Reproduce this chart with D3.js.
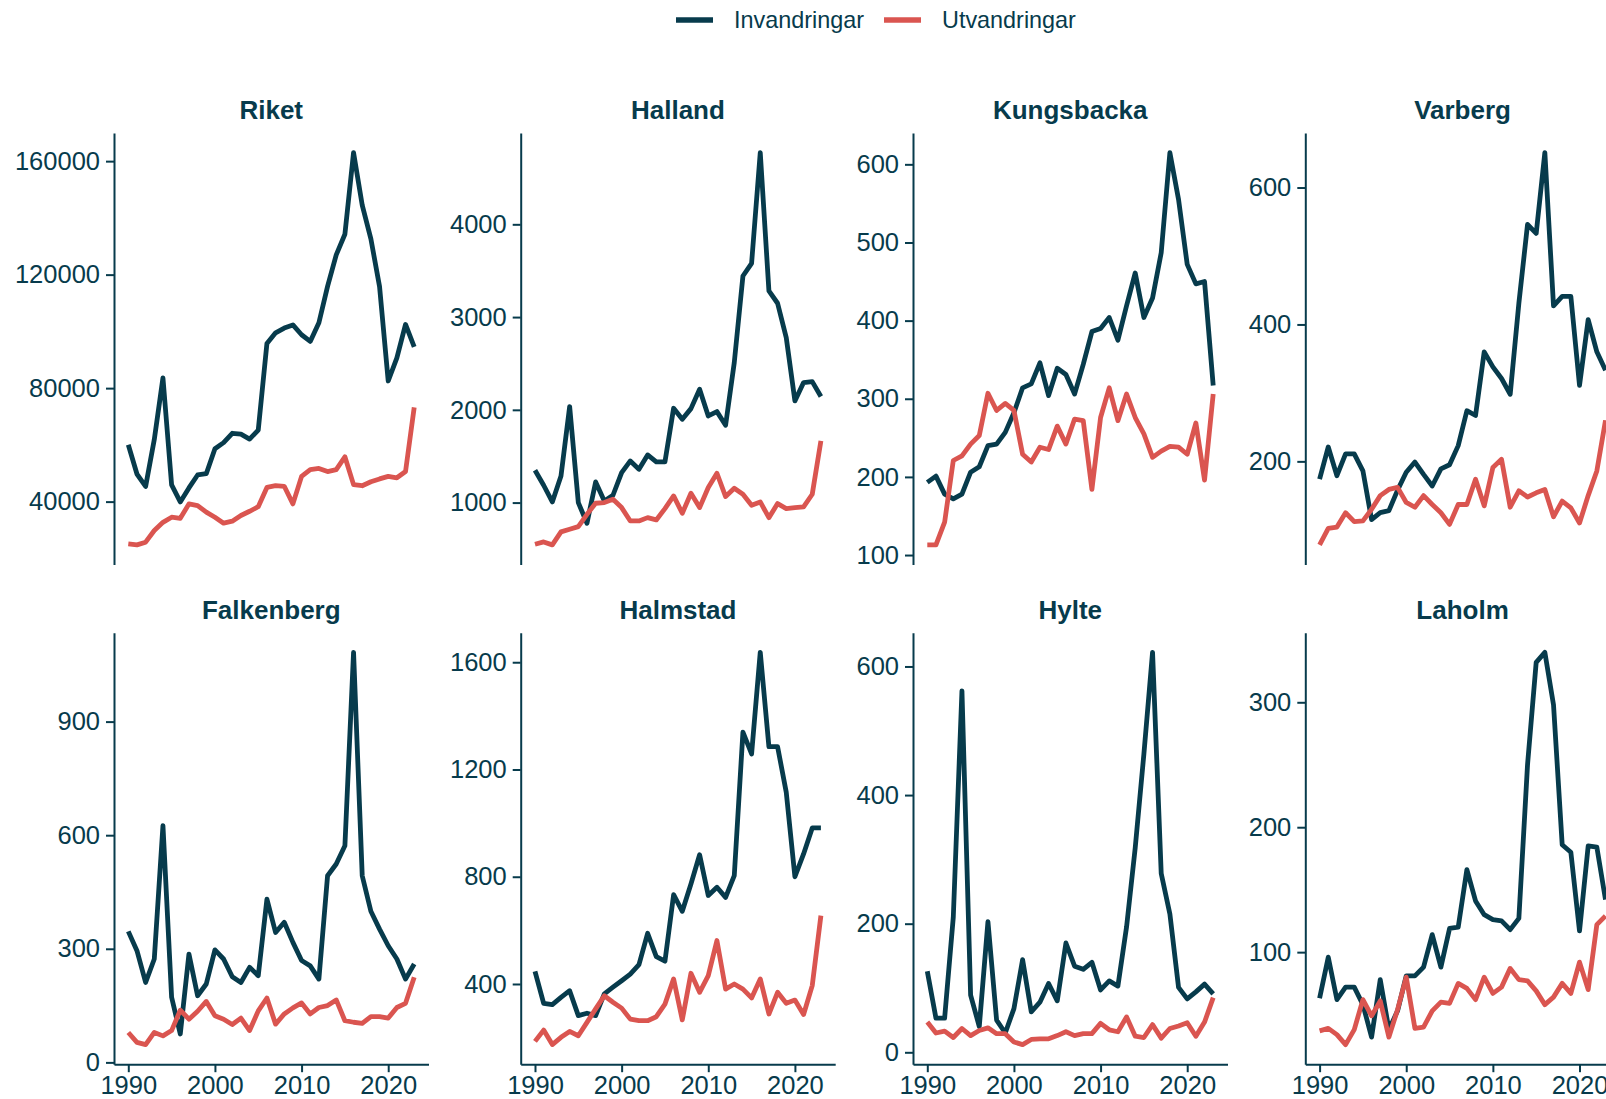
<!DOCTYPE html>
<html>
<head>
<meta charset="utf-8">
<script src="https://cdn.jsdelivr.net/npm/d3@7"></script>
<style>
  body { margin: 0; background: #fff; overflow: hidden; }
  svg { display: block; font-family: "Liberation Sans", Arial, sans-serif; }
</style>
</head>
<body>
<svg id="chart" width="1606" height="1099"></svg>
<script>
// år 1990-2023
const years = [1990, 1991, 1992, 1993, 1994, 1995, 1996, 1997, 1998, 1999,
  2000, 2001, 2002, 2003, 2004, 2005, 2006, 2007, 2008, 2009,
  2010, 2011, 2012, 2013, 2014, 2015, 2016, 2017, 2018, 2019,
  2020, 2021, 2022, 2023];

const seriesNames = ["Invandringar", "Utvandringar"];
const regions = ["Riket", "Halland", "Kungsbacka", "Varberg", "Falkenberg", "Halmstad", "Hylte", "Laholm"];

const riketInv = [60048, 49731, 45348, 61872, 83598, 45887, 39895, 44818, 49391, 49839,
  58659, 60795, 64087, 63795, 62028, 65229, 95750, 99485, 101171, 102280,
  98801, 96467, 103059, 115845, 126966, 134240, 163005, 144489, 132602, 115805,
  82518, 90631, 102436, 94514];
const riketUtv = [25100, 24750, 25700, 29800, 32700, 34500, 34100, 39200, 38600, 36300,
  34500, 32400, 33100, 35100, 36600, 38200, 45000, 45600, 45400, 39200,
  48900, 51300, 51700, 50600, 51300, 55800, 46000, 45600, 47000, 48000,
  48900, 48400, 50600, 73200];

const hallandInv = [1349, 1187, 1007, 1287, 2035, 1000, 777, 1223, 1018, 1079,
  1323, 1449, 1359, 1514, 1438, 1438, 2017, 1898, 2013, 2222,
  1934, 1981, 1834, 2509, 3443, 3580, 4773, 3282, 3149, 2779,
  2096, 2294, 2304, 2143];
const hallandUtv = [551, 576, 544, 684, 713, 741, 874, 993, 1000, 1036,
  946, 802, 802, 838, 813, 935, 1072, 885, 1101, 946,
  1162, 1316, 1065, 1155, 1090, 971, 1007, 838, 989, 935,
  946, 953, 1090, 1665];

const kungsbackaInv = [193, 201, 178, 172, 178, 206, 213, 240, 242, 257,
  282, 314, 319, 346, 304, 339, 331, 306, 344, 386,
  390, 404, 375, 419, 461, 404, 429, 487, 615, 555,
  472, 447, 450, 317];
const kungsbackaUtv = [113, 113, 142, 221, 227, 242, 253, 307, 285, 294,
  285, 229, 219, 238, 235, 265, 242, 274, 272, 184,
  276, 314, 272, 306, 276, 255, 225, 233, 239, 238,
  229, 269, 196, 306];

const varbergInv = [174, 221, 179, 211, 211, 186, 115, 125, 128, 158,
  184, 199, 181, 164, 189, 195, 223, 274, 267, 360,
  338, 321, 298, 431, 546, 533, 651, 427, 441, 441,
  311, 407, 360, 333];
const varbergUtv = [78, 102, 104, 125, 112, 113, 130, 150, 159, 162,
  140, 133, 150, 137, 125, 108, 137, 137, 174, 135,
  191, 203, 133, 157, 148, 154, 159, 119, 142, 132,
  110, 150, 186, 260];

const falkenbergInv = [346, 295, 211, 273, 625, 172, 75, 286, 176, 207,
  297, 273, 226, 211, 251, 229, 431, 343, 370, 317,
  269, 255, 220, 493, 524, 572, 1083, 493, 399, 352,
  308, 273, 220, 260];
const falkenbergUtv = [79, 53, 47, 79, 70, 84, 138, 114, 135, 161,
  123, 114, 100, 117, 84, 136, 170, 101, 128, 144,
  157, 128, 145, 150, 165, 110, 106, 103, 121, 121,
  117, 145, 156, 225];

const halmstadInv = [447, 328, 323, 350, 375, 282, 291, 282, 363, 388,
  412, 437, 472, 589, 502, 485, 733, 671, 773, 882,
  730, 761, 723, 804, 1339, 1258, 1637, 1285, 1285, 1115,
  800, 885, 982, 982];
const halmstadUtv = [186, 228, 174, 201, 223, 207, 257, 307, 356, 332,
  310, 269, 263, 263, 278, 325, 419, 266, 440, 369,
  431, 562, 381, 400, 381, 348, 419, 288, 369, 328,
  340, 286, 394, 655];

const hylteInv = [126, 53, 53, 210, 562, 89, 40, 203, 50, 30,
  68, 144, 63, 78, 107, 80, 170, 134, 129, 140,
  97, 111, 103, 195, 318, 464, 622, 278, 215, 101,
  83, 94, 106, 91];
const hylteUtv = [47, 30, 33, 23, 37, 26, 34, 38, 29, 29,
  16, 12, 20, 21, 21, 26, 32, 26, 29, 29,
  45, 35, 32, 55, 25, 23, 43, 22, 37, 41,
  46, 25, 47, 85];

const laholmInv = [63, 96, 62, 72, 72, 58, 32, 78, 38, 53,
  81, 81, 88, 114, 88, 119, 120, 166, 141, 130,
  126, 125, 118, 127, 250, 332, 340, 298, 186, 180,
  117, 185, 184, 142];
const laholmUtv = [37, 39, 34, 26, 38, 62, 49, 61, 32, 54,
  80, 39, 40, 53, 60, 59, 75, 71, 62, 80,
  67, 72, 87, 78, 77, 69, 58, 64, 75, 67,
  92, 70, 122, 129];

// skalsteg per panel
const riketTicks = [40000, 80000, 120000, 160000];
const hallandTicks = [1000, 2000, 3000, 4000];
const kungsbackaTicks = [100, 200, 300, 400, 500, 600];
const varbergTicks = [200, 400, 600];
const falkenbergTicks = [0, 300, 600, 900];
const halmstadTicks = [400, 800, 1200, 1600];
const hylteTicks = [0, 200, 400, 600];
const laholmTicks = [100, 200, 300];
const xTicks = [1990, 2000, 2010, 2020];

const panels = [
  [riketInv, riketUtv, riketTicks],
  [hallandInv, hallandUtv, hallandTicks],
  [kungsbackaInv, kungsbackaUtv, kungsbackaTicks],
  [varbergInv, varbergUtv, varbergTicks],
  [falkenbergInv, falkenbergUtv, falkenbergTicks],
  [halmstadInv, halmstadUtv, halmstadTicks],
  [hylteInv, hylteUtv, hylteTicks],
  [laholmInv, laholmUtv, laholmTicks]
].map((p, i) => ({ name: regions[i], inv: p[0], utv: p[1], ticks: p[2] }));

const dark = "#073b4c";
const red = "#da5550";
const color = d3.scaleOrdinal().domain(seriesNames).range([dark, red]);

const colLeft = [114, 520.7, 913, 1305.3];
const rowTop = [133, 632.7];
const panelW = 314.5;
const panelH = 431.5;

const svg = d3.select("#chart");

// ggplot-liknande expansion 5%
function expand(ext) {
  const pad = (ext[1] - ext[0]) * 0.05;
  return [ext[0] - pad, ext[1] + pad];
}

const x = d3.scaleLinear()
  .domain(expand(d3.extent(years)))
  .range([0, panelW]);

panels.forEach((p, i) => {
  const col = i % 4, row = Math.floor(i / 4);
  const g = svg.append("g")
    .attr("transform", `translate(${colLeft[col]},${rowTop[row]})`);

  const y = d3.scaleLinear()
    .domain(expand(d3.extent(p.inv.concat(p.utv))))
    .range([panelH, 0]);

  // titel
  g.append("text")
    .attr("x", panelW / 2)
    .attr("y", -14)
    .attr("text-anchor", "middle")
    .attr("font-weight", "bold")
    .attr("font-size", "26px")
    .attr("fill", dark)
    .text(p.name);

  // y-axel
  const yAxis = g.append("g")
    .call(d3.axisLeft(y)
      .tickValues(p.ticks)
      .tickSize(8)
      .tickSizeOuter(0)
      .tickPadding(6)
      .tickFormat(d3.format("d")));
  yAxis.select(".domain").attr("stroke", dark).attr("stroke-width", 2);
  yAxis.selectAll(".tick line").attr("stroke", dark).attr("stroke-width", 2);
  yAxis.selectAll(".tick text")
    .attr("fill", dark)
    .attr("font-size", "25.5px")
    .attr("font-family", "Liberation Sans, Arial, sans-serif");

  // x-axel bara nedre raden
  if (row === 1) {
    const xAxis = g.append("g")
      .attr("transform", `translate(0,${panelH})`)
      .call(d3.axisBottom(x)
        .tickValues(xTicks)
        .tickSize(8)
        .tickSizeOuter(0)
        .tickPadding(4)
        .tickFormat(d3.format("d")));
    xAxis.select(".domain").attr("stroke", dark).attr("stroke-width", 2);
    xAxis.selectAll(".tick line").attr("stroke", dark).attr("stroke-width", 2);
    xAxis.selectAll(".tick text")
      .attr("fill", dark)
      .attr("font-size", "25.5px")
      .attr("font-family", "Liberation Sans, Arial, sans-serif");
  }

  const line = d3.line()
    .x((d, j) => x(years[j]))
    .y(d => y(d));

  [[seriesNames[0], p.inv], [seriesNames[1], p.utv]].forEach(([name, vals]) => {
    g.append("path")
      .datum(vals)
      .attr("d", line)
      .attr("fill", "none")
      .attr("stroke", color(name))
      .attr("stroke-width", 4.8)
      .attr("stroke-linejoin", "round");
  });
});

// legend
const legend = svg.append("g");
const legendX = [676, 884];
seriesNames.forEach((name, i) => {
  legend.append("line")
    .attr("x1", legendX[i]).attr("x2", legendX[i] + 37)
    .attr("y1", 20).attr("y2", 20)
    .attr("stroke", color(name))
    .attr("stroke-width", 5.3);
  legend.append("text")
    .attr("x", legendX[i] + 58)
    .attr("y", 28.3)
    .attr("font-size", "23.4px")
    .attr("fill", dark)
    .text(name);
});
</script>
</body>
</html>
